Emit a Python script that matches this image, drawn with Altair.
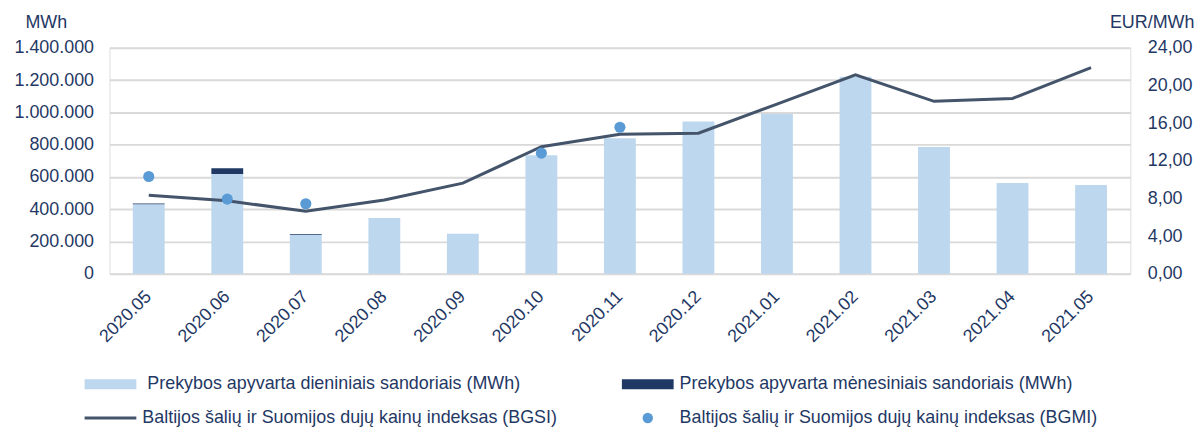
import altair as alt
import pandas as pd

months = ["2020.05", "2020.06", "2020.07", "2020.08", "2020.09", "2020.10", "2020.11",
          "2020.12", "2021.01", "2021.02", "2021.03", "2021.04", "2021.05"]
daily = [431000, 618000, 242000, 345000, 247000, 735000, 840000,
         943000, 990000, 1221000, 786000, 562000, 550000]
monthly = [4000, 35000, 4000, 0, 0, 0, 0, 0, 0, 0, 0, 0, 0]
bgsi = [8.35, 7.75, 6.63, 7.83, 9.62, 13.50, 14.82, 14.93, 18.03, 21.14, 18.32, 18.63, 21.89]
bgmi = [10.33, 7.93, 7.44, None, None, 12.81, 15.56, None, None, None, None, None, None]

names = [
    "Prekybos apyvarta dieniniais sandoriais (MWh)",
    "Prekybos apyvarta mėnesiniais sandoriais (MWh)",
    "Baltijos šalių ir Suomijos dujų kainų indeksas (BGSI)",
    "Baltijos šalių ir Suomijos dujų kainų indeksas (BGMI)",
]

C_DAILY = "#BDD7EE"
C_MONTH = "#1F3864"
C_LINE = "#44546A"
C_POINT = "#5B9BD5"
TXT = "#1F3864"
FONT = "Liberation Sans"
FS = 18

rows = []
for m, d, mo in zip(months, daily, monthly):
    rows.append({"month": m, "series": names[0], "value": d, "ord": 0})
    rows.append({"month": m, "series": names[1], "value": mo, "ord": 1})
df_bars = pd.DataFrame(rows)
df_line = pd.DataFrame({"month": months, "bgsi": bgsi})
df_pts = pd.DataFrame({"month": months, "bgmi": bgmi}).dropna()

xenc = alt.X(
    "month:N", sort=months, title=None,
    scale=alt.Scale(paddingInner=0.1, paddingOuter=0.05),
    axis=alt.Axis(labelAngle=-45, labelAlign="right", labelBaseline="middle",
                  labelPadding=20, ticks=False, tickSize=0, domain=False, grid=False,
                  labelFontSize=FS, labelColor=TXT, labelFont=FONT),
)

left_axis = alt.Axis(
    orient="left", values=[0, 200000, 400000, 600000, 800000, 1000000, 1200000, 1400000],
    labelExpr="replace(format(datum.value, ','), regexp(',', 'g'), '.')",
    grid=True, gridColor="#D9D9D9", gridWidth=2, domain=False, ticks=False, tickSize=0,
    labelPadding=16, labelFontSize=FS, labelColor=TXT, labelFont=FONT,
    title="MWh", titleAngle=0, titleAlign="left", titleBaseline="middle",
    titleX=-85, titleY=-25, titleFontSize=FS, titleFontWeight="normal",
    titleColor=TXT, titleFont=FONT,
)
right_axis = alt.Axis(
    orient="right", values=[0, 4, 8, 12, 16, 20, 24],
    labelExpr="replace(format(datum.value, '.2f'), '.', ',')",
    grid=False, domain=False, ticks=False, tickSize=0,
    labelPadding=17, labelFontSize=FS, labelColor=TXT, labelFont=FONT,
    title="EUR/MWh", titleAngle=0, titleAlign="left", titleBaseline="middle",
    titleX=-21, titleY=-25, titleFontSize=FS, titleFontWeight="normal",
    titleColor=TXT, titleFont=FONT,
)

bars = alt.Chart(df_bars).mark_bar(size=32).encode(
    x=xenc,
    y=alt.Y("value:Q", stack="zero", scale=alt.Scale(domain=[0, 1400000]), axis=left_axis),
    color=alt.Color("series:N", scale=alt.Scale(domain=names[:2], range=[C_DAILY, C_MONTH]), legend=None),
    order=alt.Order("ord:Q"),
)

rscale = alt.Scale(domain=[0, 24])
line = alt.Chart(df_line).mark_line(color=C_LINE, strokeWidth=3).encode(
    x=xenc, y=alt.Y("bgsi:Q", scale=rscale, axis=right_axis),
)
pts = alt.Chart(df_pts).mark_circle(size=125, color=C_POINT, opacity=1).encode(
    x=xenc, y=alt.Y("bgmi:Q", scale=rscale, axis=right_axis),
)
lp = alt.layer(line, pts)


def one(name):
    return pd.DataFrame({"t": [name]})


def label(name, x, y):
    return alt.Chart(one(name)).mark_text(
        align="left", baseline="middle", fontSize=FS, color=TXT, font=FONT
    ).encode(x=alt.value(x), y=alt.value(y), text="t:N")


leg = [
    alt.Chart(one(names[0])).mark_rect(color=C_DAILY).encode(
        x=alt.value(-25), x2=alt.value(27), y=alt.value(333), y2=alt.value(343)),
    label(names[0], 38, 338),
    alt.Chart(one(names[1])).mark_rect(color=C_MONTH).encode(
        x=alt.value(515), x2=alt.value(567), y=alt.value(333), y2=alt.value(343)),
    label(names[1], 573, 338),
    alt.Chart(one(names[2])).mark_rule(color=C_LINE, strokeWidth=3).encode(
        x=alt.value(-25), x2=alt.value(27), y=alt.value(372)),
    label(names[2], 33, 372),
    alt.Chart(one(names[3])).mark_circle(size=110, color=C_POINT, opacity=1).encode(
        x=alt.value(541), y=alt.value(372)),
    label(names[3], 573, 372),
]

chart = alt.layer(bars, lp, *leg).resolve_scale(y="independent").properties(
    width=1026, height=227, padding={"left": 5, "top": 5, "right": 0, "bottom": 0}
).configure_view(stroke=None).configure(font=FONT)

chart.save("out.html", embed_options={"renderer": "svg", "actions": False})
